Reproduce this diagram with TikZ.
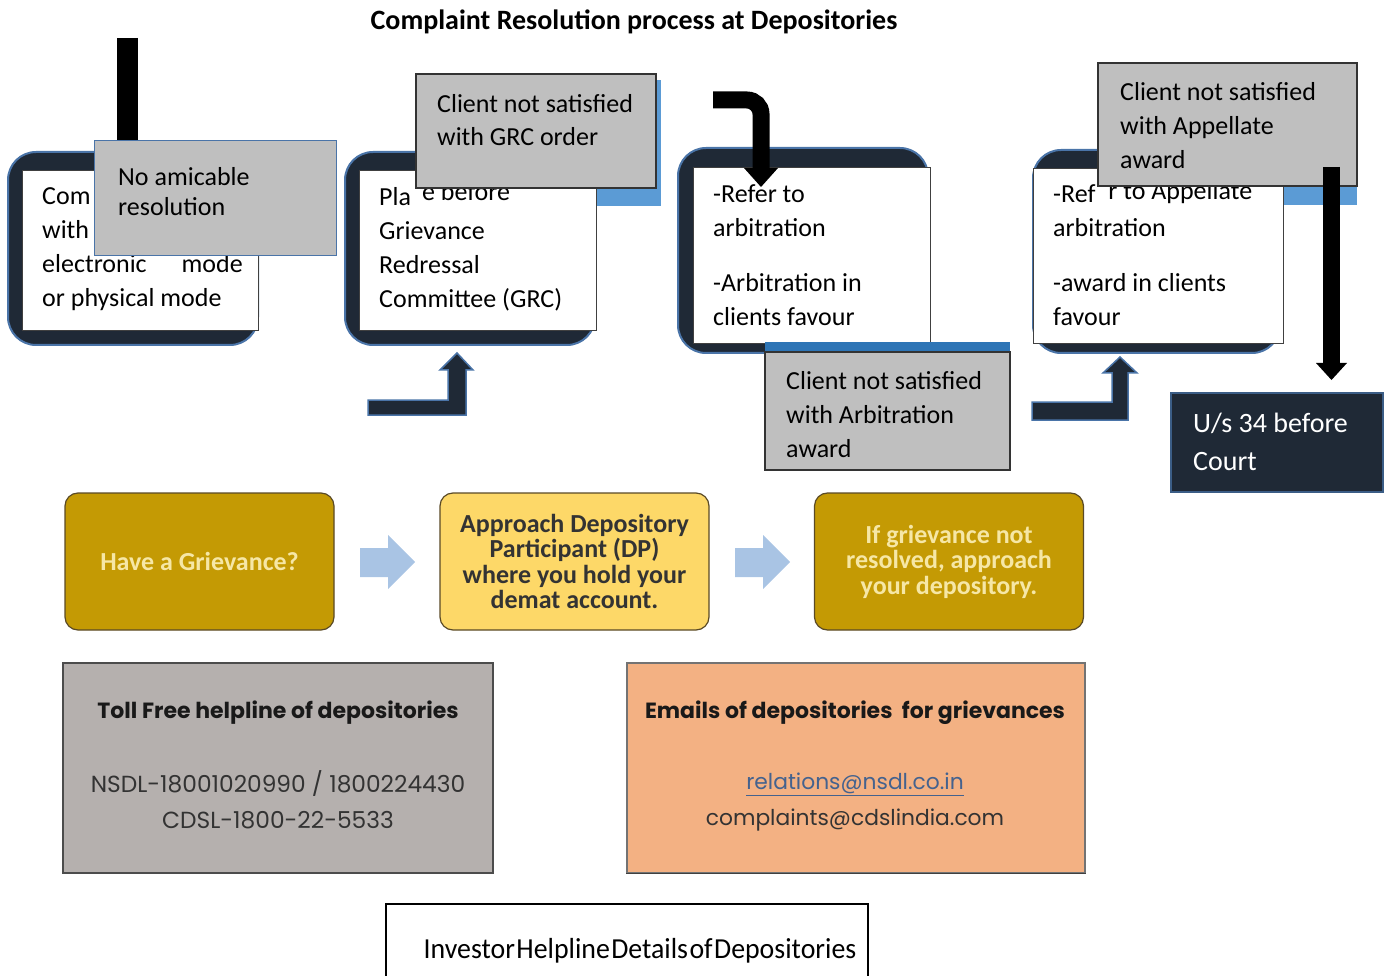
\documentclass[tikz,border=0pt]{standalone}
\usepackage{fontspec}
\setmainfont{Carlito}
\newfontfamily\popfont{Poppins}
\definecolor{navy}{HTML}{1F2936}
\definecolor{edgeblue}{HTML}{4A74A8}
\definecolor{shadowblue}{HTML}{5B9BD5}
\definecolor{stripblue}{HTML}{2E75B6}
\definecolor{boxgray}{HTML}{BFBFBF}
\definecolor{gold}{HTML}{C49A04}
\definecolor{lightgold}{HTML}{FDD868}
\definecolor{goldtext}{HTML}{F6E7A6}
\definecolor{browndark}{HTML}{5A4A26}
\definecolor{paleblue}{HTML}{A9C4E4}
\definecolor{infogray}{HTML}{B5B0AE}
\definecolor{infoorange}{HTML}{F3B183}
\definecolor{linkblue}{HTML}{44628E}
\begin{document}
\begin{tikzpicture}[x=1pt,y=-1pt,
  darkbg/.style={fill=navy, draw=edgeblue, line width=2pt, rounded corners=28pt, inner sep=0pt},
  whitebg/.style={fill=white, draw=black!75, line width=0.8pt, inner sep=0pt},
  greybox/.style={fill=boxgray, draw=black!80, line width=1.2pt, inner sep=0pt},
  bluebox/.style={fill=shadowblue, draw=none, inner sep=0pt},
  bodytxt/.style={anchor=base west, inner sep=0pt, align=flush left, text width=260pt, font=\fontsize{26}{34}\selectfont, execute at begin node={\spaceskip=0pt\xspaceskip=0pt\relax}},
  bararrow/.style={line width=17pt, draw=black},
  headtip/.style={fill=black, draw=none},
  lshape/.style={fill=navy, draw=edgeblue, line width=1.5pt},
  flowgold/.style={fill=gold, draw=browndark, line width=1.2pt, rounded corners=13pt, inner sep=0pt, minimum width=269pt, minimum height=137pt, align=center, text=goldtext, font=\fontsize{26}{25.5}\selectfont\bfseries},
  flowlight/.style={flowgold, fill=lightgold, text=black!80},
  palearrow/.style={fill=paleblue, draw=none},
  infotitle/.style={inner sep=0pt, font=\popfont\fontsize{22}{22}\selectfont\bfseries, text=black!90},
  infotxt/.style={inner sep=0pt, font=\popfont\fontsize{23.3}{23.3}\selectfont, text=black!80}
]
\useasboundingbox (0,0) rectangle (1390,976);

% title
\node[inner sep=0pt, anchor=base, font=\fontsize{28}{28}\selectfont\bfseries] (title) at (634,30) {Complaint Resolution process at Depositories};

% ---------- box 1
\node[darkbg, minimum width=250pt, minimum height=193pt] (d1) at (133,248.5) {};
\node[whitebg, minimum width=236pt, minimum height=160pt] (w1) at (140,250) {};
\draw[line width=21pt] (127.5,38) -- (127.5,145);
\node[bodytxt] (t1) at (42,205) {Com\\with\\electronic\hspace{35pt}mode\\or physical mode};
\node[fill=boxgray, draw=edgeblue, line width=1pt, inner sep=0pt, minimum width=242pt, minimum height=115pt] (g1) at (215,198.5) {};
\node[bodytxt, font=\fontsize{26}{30}\selectfont] (gt1) at (118,186) {No amicable\\resolution};

% ---------- box 2
\node[darkbg, minimum width=250pt, minimum height=193pt] (d2) at (470,248.5) {};
\node[bluebox, minimum width=241pt, minimum height=126pt] (s2) at (540.5,143) {};
\node[whitebg, minimum width=237pt, minimum height=160pt] (w2) at (477.5,250) {};
\node[bodytxt] (t2) at (379,206) {Pla\phantom{c}\raisebox{5pt}{e before}\\Grievance\\Redressal\\Committee (GRC)};
\node[greybox, minimum width=240pt, minimum height=114pt] (g2) at (536,131) {};
\node[bodytxt, font=\fontsize{26}{33}\selectfont] (gt2) at (437,113) {Client not satisfied\\with GRC order};
\draw[lshape] (368,400) -- (448,400) -- (448,370) -- (440,370) -- (457,353) -- (473,370) -- (466,370) -- (466,415) -- (368,415) -- cycle;

% ---------- box 3
\node[darkbg, minimum width=250pt, minimum height=205pt] (d3) at (803,250.5) {};
\node[whitebg, minimum width=237pt, minimum height=176pt] (w3) at (811.5,255) {};
\node[bodytxt] (t3) at (713,203) {-Refer to\\arbitration\\[21pt]-Arbitration in\\clients favour};
\draw[bararrow, rounded corners=14pt] (713,100) -- (761,100) -- (761,170);
\fill[headtip] (744,168) -- (778,168) -- (761,187) -- cycle;
\fill[stripblue] (765,342) rectangle (1010,352);
\node[greybox, minimum width=245pt, minimum height=118pt] (g3) at (887.5,411) {};
\node[bodytxt] (gt3) at (786,389) {Client not satisfied\\with Arbitration\\award};
\draw[lshape] (1032,402) -- (1112,402) -- (1112,373) -- (1103,373) -- (1120,357) -- (1137,373) -- (1128,373) -- (1128,420) -- (1032,420) -- cycle;

% ---------- box 4
\node[darkbg, minimum width=247pt, minimum height=203pt] (d4) at (1156.5,251.5) {};
\node[bluebox, minimum width=247pt, minimum height=135pt] (s4) at (1233.5,137.5) {};
\node[whitebg, minimum width=250pt, minimum height=175pt] (w4) at (1158,255.5) {};
\node[bodytxt] (t4) at (1053,203) {-Ref\phantom{e}\raisebox{3pt}{r to Appellate}\\arbitration\\[21pt]-award in clients\\favour};
\node[greybox, minimum width=259pt, minimum height=123pt] (g4) at (1227.5,124.5) {};
\node[bodytxt] (gt4) at (1120,101) {Client not satisfied\\with Appellate\\award};
\draw[bararrow] (1331.5,167) -- (1331.5,365);
\fill[headtip] (1316,363) -- (1347,363) -- (1331.5,380) -- cycle;
\node[fill=navy, draw=edgeblue!80!black, line width=2pt, minimum width=212pt, minimum height=99pt, inner sep=0pt] (court) at (1277,442.5) {};
\node[bodytxt, font=\fontsize{28}{38}\selectfont, text=white] (ct) at (1193,432) {U/s 34 before\\Court};

% ---------- flow row
\node[flowgold] (fa) at (199.5,561.5) {Have a Grievance?};
\node[flowlight] (fb) at (574.5,561.5) {Approach Depository\\Participant (DP)\\where you hold your\\demat account.};
\node[flowgold] (fc) at (949,561.5) {If grievance not\\resolved, approach\\your depository.};
\fill[palearrow] (360,548) -- (388,548) -- (388,535) -- (415,562) -- (388,589) -- (388,577) -- (360,577) -- cycle;
\fill[palearrow] (735,548) -- (763,548) -- (763,535) -- (790,562) -- (763,589) -- (763,577) -- (735,577) -- cycle;

% ---------- info boxes
\node[fill=infogray, draw=black!70, line width=1.2pt, minimum width=430pt, minimum height=210pt, inner sep=0pt] (ib1) at (278,768) {};
\node[infotitle] (it1) at (278,713) {Toll Free helpline of depositories};
\node[infotxt] (n1) at (278,784) {NSDL-18001020990 / 1800224430};
\node[infotxt] (n2) at (278,820) {CDSL-1800-22-5533};

\node[fill=infoorange, draw=black!55, line width=1.2pt, minimum width=458pt, minimum height=210pt, inner sep=0pt] (ib2) at (856,768) {};
\draw[line width=1.5pt, draw=black!75] (ib2.south west) -- (ib2.south east);
\node[infotitle] (it2) at (855,713) {Emails of depositories \ for grievances};
\node[infotxt, text=linkblue, font=\popfont\fontsize{21.8}{21.8}\selectfont] (e1) at (855,784) {\underline{relations@nsdl.co.in}};
\node[infotxt, font=\popfont\fontsize{21.8}{21.8}\selectfont] (e2) at (855,820) {complaints@cdslindia.com};

% ---------- footer
\node[fill=white, draw=black, line width=1.2pt, minimum width=482pt, minimum height=90pt, inner sep=0pt] (foot) at (627,949) {};
\node[inner sep=0pt, anchor=base] (ft) at (640,958) {\scalebox{0.96}[1]{\fontsize{29}{29}\selectfont\spaceskip=1.5pt\relax Investor Helpline Details of Depositories}};
\end{tikzpicture}
\end{document}
